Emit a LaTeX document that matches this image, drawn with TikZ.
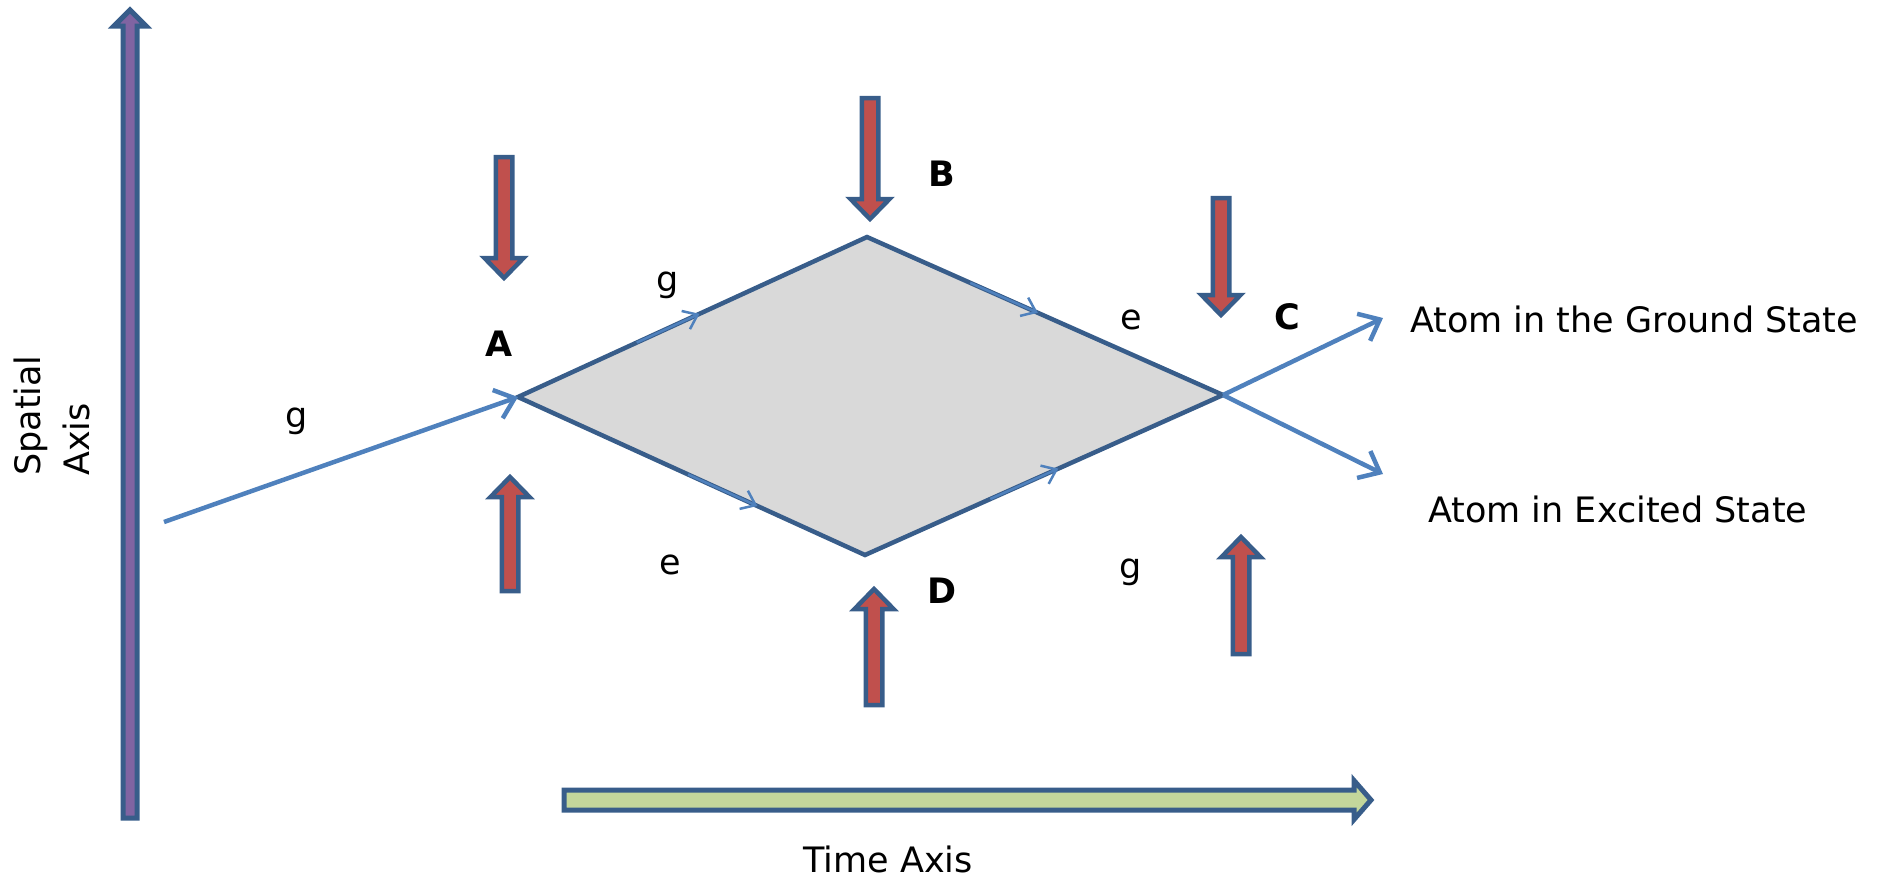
\documentclass[tikz,border=0pt]{standalone}
\usepackage{fontspec}
\setmainfont{DejaVu Sans}
\usetikzlibrary{arrows.meta,calc}
\definecolor{bord}{HTML}{385D8A}
\definecolor{lblue}{HTML}{4F81BD}
\definecolor{redf}{HTML}{C0504D}
\definecolor{purf}{HTML}{8064A2}
\definecolor{grnf}{HTML}{C3D69B}
\definecolor{greyf}{HTML}{D9D9D9}
\newcommand\laserdown[3]{%
  \draw[laserblock] (#1-8.25,#2) -- (#1+8.25,#2) -- (#1+8.25,#3-22) -- (#1+19.5,#3-22) -- (#1,#3-2) -- (#1-19.5,#3-22) -- (#1-8.25,#3-22) -- cycle;}
\newcommand\laserup[3]{%
  \draw[laserblock] (#1-8.25,#3) -- (#1+8.25,#3) -- (#1+8.25,#2+22) -- (#1+19.5,#2+22) -- (#1,#2+2) -- (#1-19.5,#2+22) -- (#1-8.25,#2+22) -- cycle;}
\begin{document}
\begin{tikzpicture}[x=1pt,y=-1pt,
  lbl/.style={inner sep=0pt,font=\fontsize{35}{42}\selectfont},
  blbl/.style={lbl,font=\fontsize{35}{42}\selectfont\bfseries},
  laserblock/.style={draw=bord,line width=4.5pt,fill=redf,line join=miter},
  edge/.style={draw=bord,line width=4.5pt},
  marker/.style={draw=lblue,line width=2.5pt,-{Straight Barb[length=13pt,width=20pt,line width=2.5pt]}},
  beam/.style={draw=lblue,line width=4.5pt,-{Straight Barb[length=18pt,width=30pt,line width=4.5pt]}}]
\path[use as bounding box] (0,0) rectangle (1877,879);
% spatial axis
\draw[draw=bord,fill=purf,line width=5pt,line join=miter]
  (123,818) -- (137,818) -- (137,26) -- (146,26) -- (130,10) -- (114,26) -- (123,26) -- cycle;
% time axis
\draw[draw=bord,fill=grnf,line width=5pt,line join=miter]
  (564,790) -- (1354,790) -- (1354,780.5) -- (1371,800) -- (1354,819.5) -- (1354,810) -- (564,810) -- cycle;
% diamond
\coordinate (A) at (518,397);
\coordinate (B) at (867,237);
\coordinate (C) at (1223,395);
\coordinate (D) at (865,555);
\coordinate (start) at (164,522);
\coordinate (gnd) at (1383,318);
\coordinate (exc) at (1383,474);
\fill[greyf] (A) -- (B) -- (C) -- (D) -- cycle;
\draw[edge,line join=miter] (A) -- (B) -- (C) -- (D) -- cycle;
\draw[beam] (start) -- (A);
\draw[beam] (C) -- (gnd);
\draw[beam] (C) -- (exc);
\draw[marker] ($(A)!0.34!(B)$) -- ($(A)!0.52!(B)$);
\draw[marker] ($(B)!0.29!(C)$) -- ($(B)!0.48!(C)$);
\draw[marker] ($(A)!0.49!(D)$) -- ($(A)!0.69!(D)$);
\draw[marker] ($(D)!0.35!(C)$) -- ($(D)!0.54!(C)$);
% laser pulses
\laserdown{504}{157}{280}
\laserdown{870}{98}{221}
\laserdown{1221}{198}{317}
\laserup{510}{475}{591}
\laserup{874}{587}{705}
\laserup{1241}{535}{654}
% labels
\node[lbl] (g0) at (297,421) {g};
\node[blbl] (lA) at (499,344) {A};
\node[lbl] (g1) at (668,285) {g};
\node[blbl] (lB) at (942,174) {B};
\node[lbl] (e1) at (1131,320) {e};
\node[blbl] (lC) at (1287,317) {C};
\node[lbl] (e2) at (670,565) {e};
\node[blbl] (lD) at (942,591) {D};
\node[lbl] (g2) at (1131,572) {g};
\node[lbl,anchor=west] (tG) at (1410,319) {Atom in the Ground State};
\node[lbl,anchor=west] (tE) at (1428,509) {Atom in Excited State};
\node[lbl] (tT) at (888,859) {Time Axis};
\node[lbl,rotate=90,anchor=base west] (tS1) at (40,476) {Spatial};
\node[lbl,rotate=90,anchor=base west] (tS2) at (89,476) {Axis};
\end{tikzpicture}
\end{document}
